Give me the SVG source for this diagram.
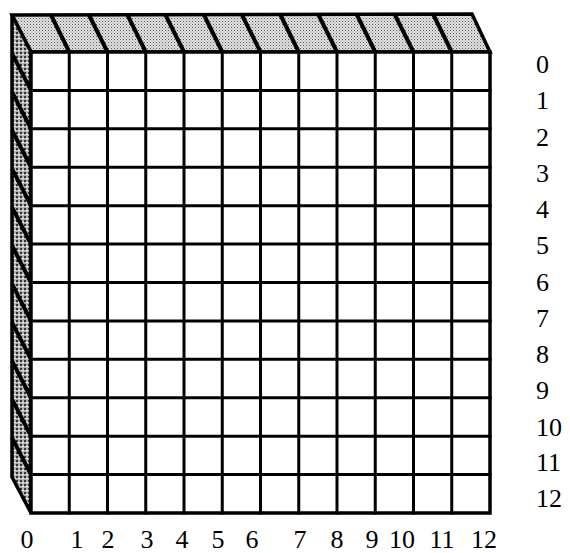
<svg xmlns="http://www.w3.org/2000/svg" width="570" height="553" viewBox="0 0 570 553">
<style>
.g{stroke:#000;stroke-width:3;fill:none;stroke-linecap:square}
.o{stroke:#000;stroke-width:3.5;stroke-linejoin:miter}
.s{stroke:#000;stroke-width:4;fill:none}
.top{fill:url(#dots)}
.left{fill:url(#hatch)}
.front{fill:#fff}
.t{font-family:"Liberation Serif","DejaVu Serif",serif;font-size:26px;fill:#000}
.b{font-family:"Liberation Serif","DejaVu Serif",serif;font-size:26px;fill:#000;text-anchor:middle}
</style>
<defs>
<pattern id="dots" width="3" height="3" patternUnits="userSpaceOnUse">
<rect width="3" height="3" fill="#e2e2e2"/>
<rect x="0" y="0" width="1" height="1" fill="#555"/>
<rect x="1.5" y="1.5" width="1" height="1" fill="#8a8a8a"/>
</pattern>
<pattern id="hatch" width="4" height="4" patternUnits="userSpaceOnUse">
<rect width="4" height="4" fill="#b0b0b0"/>
<rect x="0" y="0" width="2" height="2" fill="#333"/>
<rect x="2" y="2" width="2" height="1" fill="#f4f4f4"/>
</pattern>
</defs>
<g id="top-face">
<polygon points="31,52 490,52 472,14 12,15" class="o top"/>
<path class="s" d="M69.25,52 L51,15 M107.5,52 L89,15 M145.75,52 L127.5,15 M184,52 L165.5,15 M222.25,52 L204,15 M260.5,52 L242,15 M298.75,52 L280.5,15 M337,52 L318.5,15 M375.25,52 L357,15 M413.5,52 L395,15 M451.75,52 L433.5,15"/>
</g>
<g id="left-face">
<polygon points="31,52 31,513 12,477 12,15" class="o left"/>
<path class="s" d="M31,90.42 L12,53.4 M31,128.83 L12,91.8 M31,167.25 L12,130.2 M31,205.67 L12,168.7 M31,244.08 L12,207.1 M31,282.5 L12,245.5 M31,320.92 L12,283.9 M31,359.33 L12,322.3 M31,397.75 L12,360.8 M31,436.17 L12,399.2 M31,474.58 L12,437.6"/>
</g>
<g id="front-face">
<rect x="31" y="52" width="459" height="461" class="o front"/>
<path class="g" d="M69.25,52V513 M107.5,52V513 M145.75,52V513 M184,52V513 M222.25,52V513 M260.5,52V513 M298.75,52V513 M337,52V513 M375.25,52V513 M413.5,52V513 M451.75,52V513"/>
<path class="g" d="M31,90.42H490 M31,128.83H490 M31,167.25H490 M31,205.67H490 M31,244.08H490 M31,282.5H490 M31,320.92H490 M31,359.33H490 M31,397.75H490 M31,436.17H490 M31,474.58H490"/>
</g>
<g id="row-labels">
<text class="t" x="536" y="73">0</text>
<text class="t" x="536" y="109">1</text>
<text class="t" x="536" y="145.5">2</text>
<text class="t" x="536" y="182">3</text>
<text class="t" x="536" y="218">4</text>
<text class="t" x="536" y="254">5</text>
<text class="t" x="536" y="290.5">6</text>
<text class="t" x="536" y="327">7</text>
<text class="t" x="536" y="363">8</text>
<text class="t" x="536" y="399">9</text>
<text class="t" x="536" y="435.5">10</text>
<text class="t" x="536" y="471">11</text>
<text class="t" x="536" y="507">12</text>
</g>
<g id="column-labels">
<text class="b" x="27" y="548">0</text>
<text class="b" x="77" y="548">1</text>
<text class="b" x="108" y="548">2</text>
<text class="b" x="147" y="548">3</text>
<text class="b" x="182" y="548">4</text>
<text class="b" x="218" y="548">5</text>
<text class="b" x="252" y="548">6</text>
<text class="b" x="300" y="548">7</text>
<text class="b" x="337" y="548">8</text>
<text class="b" x="372" y="548">9</text>
<text class="b" x="402" y="548">10</text>
<text class="b" x="442" y="548">11</text>
<text class="b" x="484" y="548">12</text>
</g>
</svg>
